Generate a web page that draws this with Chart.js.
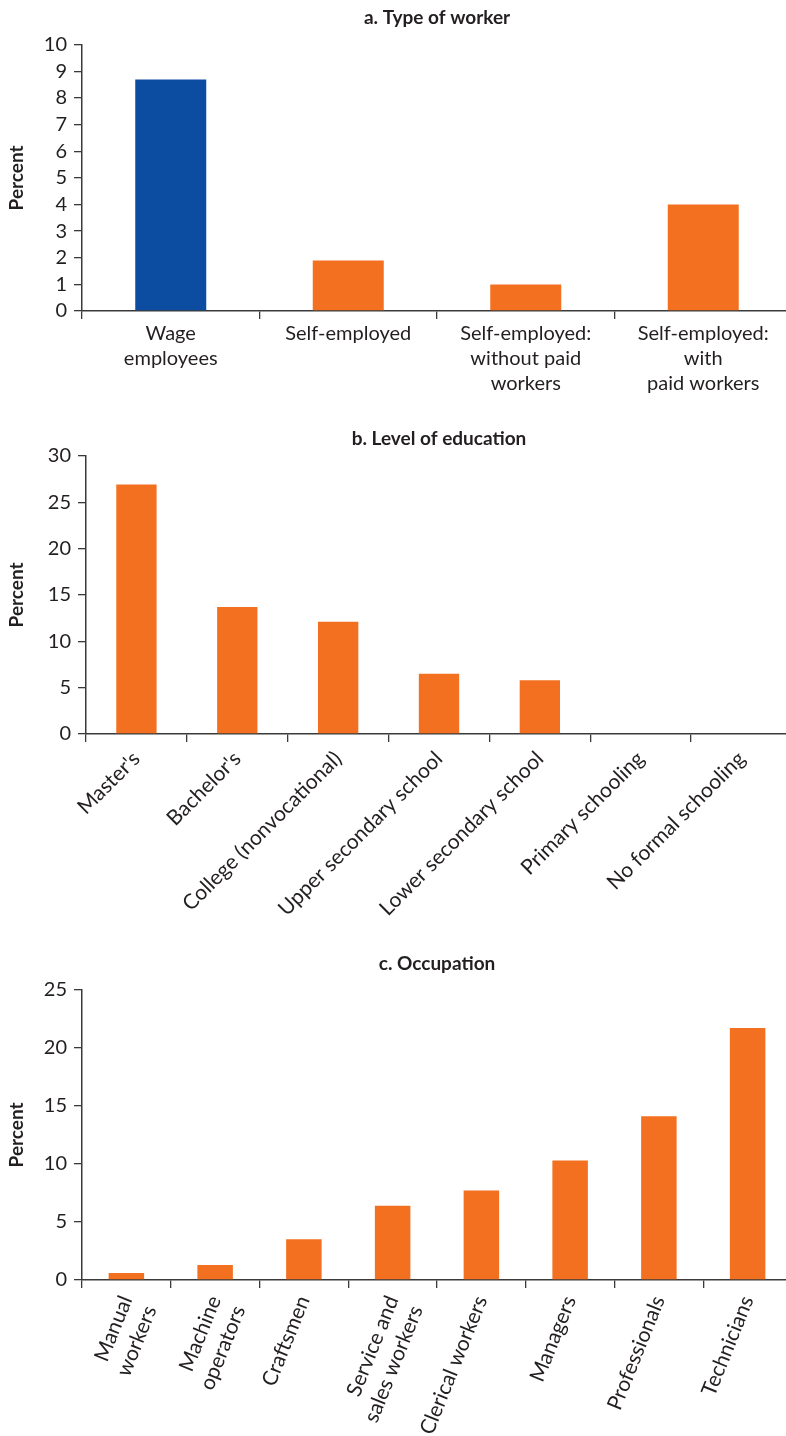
<!DOCTYPE html>
<html>
<head>
<meta charset="utf-8">
<script src="https://cdn.jsdelivr.net/npm/chart.js@4.4.1/dist/chart.umd.min.js"></script>
<style>
  html, body { margin: 0; padding: 0; background: #fff; }
  #wrap { position: relative; width: 786px; height: 1436px; overflow: hidden; }
  canvas { position: absolute; left: 0; }
</style>
</head>
<body>
<div id="wrap">
  <canvas id="chartA" width="792" height="410" style="top:0px;width:792px;height:410px"></canvas>
  <canvas id="chartB" width="792" height="520" style="top:420px;width:792px;height:520px"></canvas>
  <canvas id="chartC" width="792" height="491" style="top:945px;width:792px;height:491px"></canvas>
</div>
<script>
// panel a. Type of worker
var workerTypes = [["Wage", "employees"], "Self-employed", ["Self-employed:", "without paid", "workers"], ["Self-employed:", "with", "paid workers"]];
var workerValues = [8.7, 1.9, 1.0, 4.0];

// panel b. Level of education
var eduLevels = ["Master's", "Bachelor's", "College (nonvocational)", "Upper secondary school", "Lower secondary school", "Primary schooling", "No formal schooling"];
var eduValues = [26.9, 13.7, 12.1, 6.5, 5.8, 0, 0];

// panel c. Occupation
var occupations = [["Manual", "workers"], ["Machine", "operators"], "Craftsmen", ["Service and", "sales workers"], "Clerical workers", "Managers", "Professionals", "Technicians"];
var occValues = [0.6, 1.3, 3.5, 6.4, 7.7, 10.3, 14.1, 21.7];

var BLUE = "#0d4da1";
var ORANGE = "#f37021";
var AXIS = "#3a3a3a";
var TEXT = "#231f20";

Chart.defaults.font.family = "Lato, 'Open Sans', sans-serif";
Chart.defaults.color = TEXT;
Chart.defaults.animation = false;

function makeChart(id, opts) {
  var ctx = document.getElementById(id);
  return new Chart(ctx, {
    type: "bar",
    data: {
      labels: opts.labels,
      datasets: [{
        data: opts.values,
        backgroundColor: opts.colors,
        borderWidth: 0,
        barPercentage: 0.4,
        categoryPercentage: 1.0
      }]
    },
    options: {
      responsive: false,
      animation: false,
      layout: { padding: { left: 0, right: 0, top: 0, bottom: 0 } },
      plugins: {
        legend: { display: false },
        tooltip: { enabled: false },
        title: {
          display: true,
          text: opts.title,
          fullSize: false,
          color: TEXT,
          font: { size: 19, weight: "bold", lineHeight: 1.2 },
          padding: { top: opts.titleTop, bottom: opts.titleBottom }
        }
      },
      scales: {
        x: {
          offset: true,
          grid: {
            offset: true,
            display: true,
            drawOnChartArea: false,
            drawTicks: true,
            tickLength: 8,
            color: AXIS,
            lineWidth: 1.3
          },
          border: { display: true, color: AXIS, width: 1.5 },
          ticks: {
            autoSkip: false,
            minRotation: opts.rotation,
            maxRotation: opts.rotation,
            padding: opts.xPad,
            color: TEXT,
            font: { size: opts.xFont, lineHeight: 1.25 }
          },
          afterFit: function (s) { s.height = opts.xHeight; }
        },
        y: {
          min: 0,
          max: opts.yMax,
          grid: {
            display: true,
            drawOnChartArea: false,
            drawTicks: true,
            tickLength: 8,
            color: AXIS,
            lineWidth: 1.3
          },
          border: { display: true, color: AXIS, width: 1.5 },
          ticks: {
            stepSize: opts.yStep,
            autoSkip: false,
            padding: 7,
            color: TEXT,
            font: { size: 20 }
          },
          title: {
            display: true,
            text: "Percent",
            color: TEXT,
            font: { size: 19, weight: "bold", lineHeight: 1.2 },
            padding: { top: 5, bottom: 0 }
          },
          afterFit: function (s) { s.width = opts.yWidth; }
        }
      }
    }
  });
}

makeChart("chartA", {
  labels: workerTypes,
  values: workerValues,
  colors: [BLUE, ORANGE, ORANGE, ORANGE],
  title: "a. Type of worker",
  titleTop: 6, titleBottom: 16,
  rotation: 0, xPad: 2, xHeight: 99, xFont: 20,
  yMax: 10, yStep: 1, yWidth: 82
});

makeChart("chartB", {
  labels: eduLevels,
  values: eduValues,
  colors: ORANGE,
  title: "b. Level of education",
  titleTop: 7, titleBottom: 6,
  rotation: 45, xPad: 4, xHeight: 206, xFont: 21,
  yMax: 30, yStep: 5, yWidth: 86
});

makeChart("chartC", {
  labels: occupations,
  values: occValues,
  colors: ORANGE,
  title: "c. Occupation",
  titleTop: 7, titleBottom: 15,
  rotation: 68, xPad: 4, xHeight: 156, xFont: 21,
  yMax: 25, yStep: 5, yWidth: 82
});
</script>
</body>
</html>
